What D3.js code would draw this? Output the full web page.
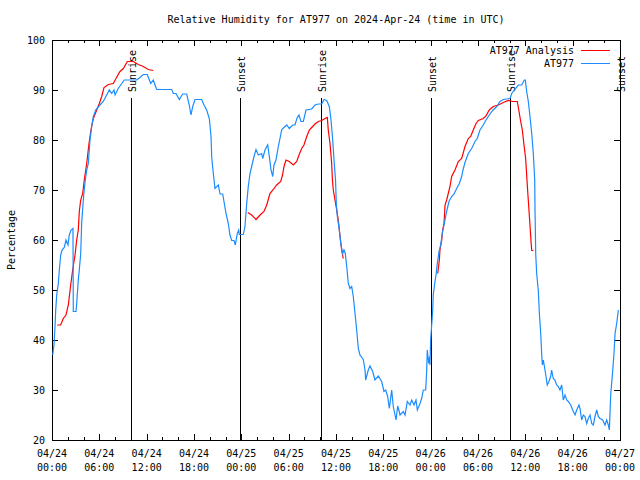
<!DOCTYPE html>
<html><head><meta charset="utf-8">
<script src="https://cdn.jsdelivr.net/npm/d3@7"></script>
<style>
body{margin:0;background:#fff}
svg text{font-family:"DejaVu Sans Mono",monospace;font-size:10px;fill:#000}
</style>
</head><body>
<svg id="c" width="640" height="480"></svg>
<script>
// ---- data (hours since 2024-04-24 00:00 UTC, relative humidity %) ----
const stationSeries = [[0.09,37],[0.25,39],[0.38,42.7],[0.47,46],[0.6,49],[0.8,51.3],[0.93,54],[1.1,57],[1.27,58],[1.56,58.5],[1.77,60],[2.03,59],[2.19,61],[2.41,62],[2.66,62.3],[2.7,45.7],[3.04,45.7],[3.13,47.3],[3.33,52],[3.46,54],[3.64,57.3],[3.76,63.3],[3.89,66.3],[4.02,69],[4.22,72],[4.4,74],[4.6,75.3],[4.82,80],[5.03,82.7],[5.24,84.7],[5.54,86],[6.08,87],[6.5,87.7],[6.93,89],[7.26,90],[7.57,89.3],[7.86,90],[7.99,89],[8.4,90.3],[8.71,91],[9.16,92],[9.67,92],[10.1,92],[10.74,92],[11.15,92.5],[11.57,93.1],[12.08,93.1],[12.51,91.3],[12.84,92],[13.06,91],[13.27,90.1],[15.17,90.1],[15.38,89.3],[15.72,89.3],[16.14,88.1],[16.57,89.2],[17.07,89.2],[17.4,87],[17.62,85],[17.84,86.7],[18.13,88.1],[18.98,88.1],[19.27,87],[19.61,86],[19.94,84.3],[20.16,80.7],[20.24,76.7],[20.34,75],[20.54,72],[20.66,70.3],[21.08,71],[21.3,69.2],[21.64,69.2],[21.84,67.3],[22.06,65.3],[22.35,63.3],[22.56,61],[22.78,59.9],[23.07,59.9],[23.24,59],[23.49,61.3],[23.67,62],[23.74,61.1],[24.25,61.1],[24.46,62.7],[24.68,67.3],[24.88,70.7],[25.1,73.3],[25.31,74.7],[25.61,76.7],[25.86,78.1],[26.15,77],[26.58,77.3],[26.71,76.3],[27.0,78],[27.34,79],[27.55,76.7],[27.76,74],[27.98,72.7],[28.14,75],[28.39,76],[28.69,78.7],[28.9,80.3],[29.12,82.1],[29.75,83],[30.08,82.3],[30.51,83],[30.8,83],[31.09,84.5],[31.31,85],[31.56,83.7],[31.86,83.7],[32.2,86],[32.92,86.2],[33.34,87],[33.76,87.2],[34.19,87.2],[34.48,88.1],[34.82,87.9],[35.15,86.7],[35.37,84],[35.58,80],[35.78,75.3],[35.94,72],[36.04,67.3],[36.17,64.7],[36.42,62],[36.63,59],[36.85,57.3],[37.01,58],[37.18,57.3],[37.36,54.7],[37.56,51.3],[37.77,50.3],[37.99,50.7],[38.19,48.7],[38.41,45.3],[38.62,42],[38.83,38.3],[39.04,37],[39.46,36.1],[39.68,34],[39.76,32],[40.09,34],[40.31,34.8],[40.65,33.7],[40.94,32],[41.36,32.8],[41.79,31.7],[42.08,29.7],[42.3,30],[42.55,28.7],[42.76,26.3],[43.06,30],[43.26,26.7],[43.61,24],[43.82,26.8],[44.02,25.7],[44.11,25],[44.53,25.7],[44.75,25],[45.04,27.7],[45.38,27],[45.6,28],[45.89,27],[46.14,28],[46.31,26],[46.65,27.3],[46.86,28.3],[47.07,30],[47.37,30],[47.5,34],[47.57,38],[47.75,35.3],[47.88,36.7],[47.91,35],[48.0,40],[48.13,43],[48.26,46],[48.33,49],[48.51,51.3],[48.68,53],[48.84,55.3],[49.06,57.7],[49.27,59],[49.47,61.3],[49.69,63],[49.9,64.7],[50.11,66.3],[50.32,67.7],[50.66,68.7],[50.96,69.2],[51.3,70.3],[51.63,71.3],[51.93,72.7],[52.1,74],[52.35,75.5],[52.77,77.3],[53.2,78.3],[53.62,79.7],[53.91,80.3],[54.25,82],[54.67,83],[55.01,84],[55.43,85],[55.86,85.9],[56.37,86.7],[56.79,87.7],[57.21,88.1],[58.06,88.3],[58.27,89.3],[58.6,90],[59.11,91],[59.54,91],[59.87,92],[60.0,92],[60.17,89.7],[60.38,87.7],[60.59,84.7],[60.81,81.3],[61.01,77.3],[61.19,72],[61.23,65.7],[61.32,57],[61.44,53.3],[61.65,49.7],[61.78,45.3],[61.95,41.3],[62.08,37],[62.16,35],[62.28,36],[62.49,34],[62.62,32.7],[62.78,31],[62.99,31.7],[63.21,32.7],[63.33,34],[63.54,32.3],[63.75,32],[63.97,31],[64.18,30.7],[64.39,30],[64.61,31],[64.81,28],[65.03,29],[65.24,28],[65.45,27.7],[65.75,27],[66.0,26],[66.3,25],[66.51,26],[66.8,27],[66.93,26.3],[67.14,24],[67.35,25],[67.56,24.7],[67.78,23.3],[67.98,24.3],[68.2,25],[68.41,23.3],[68.62,23],[68.83,24.7],[69.05,26],[69.25,24.7],[69.46,24.3],[69.81,24],[70.1,23],[70.31,24],[70.52,23],[70.65,22],[70.82,29],[71.03,33],[71.24,37.3],[71.37,41.3],[71.58,43.3],[71.79,46]];

const analysisSeries1 = [[0.67,43],[1.1,43],[1.43,44.3],[1.77,45],[2.07,47],[2.37,51],[2.62,54],[2.92,57],[3.13,60],[3.33,62],[3.46,65.7],[3.64,68],[3.89,69.3],[4.09,72],[4.4,75.3],[4.69,79.3],[4.94,82],[5.24,84.3],[5.67,86],[6.0,87.3],[6.3,88.7],[6.59,90.5],[7.14,91.1],[7.77,91.3],[8.11,92.3],[8.62,93.7],[9.04,94.3],[9.55,95.7],[10.31,95.7],[10.94,95.1],[11.57,94.7],[12.21,94.1],[12.84,93.9]];
const analysisSeries2 = [[24.81,65.5],[25.31,65],[25.86,64.1],[26.37,65],[26.87,65.7],[27.22,67],[27.63,69.3],[28.05,70.1],[28.48,71],[28.99,71.7],[29.22,73],[29.41,74.7],[29.66,76],[30.08,75.7],[30.59,75],[31.02,75.7],[31.31,77],[31.65,78.3],[31.94,79],[32.29,80.7],[32.62,82],[32.92,82.5],[33.34,83.2],[33.76,83.7],[34.19,83.9],[34.61,84.3],[34.9,84.5],[35.02,82],[35.24,79.3],[35.45,75.3],[35.55,72],[35.66,70],[35.87,68],[36.09,66],[36.29,64],[36.51,60.7],[36.72,58],[36.92,56.3]];
const analysisSeries3 = [[48.89,53.3],[49.1,56],[49.18,58],[49.4,60],[49.52,62],[49.69,63.3],[49.82,67],[50.03,68],[50.23,69.3],[50.45,70.7],[50.66,72.7],[51.08,74],[51.5,75.7],[51.93,76.3],[52.35,78.7],[52.77,80.3],[53.07,80.7],[53.4,82],[53.75,83.3],[54.04,83.9],[54.67,84.3],[55.01,84.8],[55.43,86],[55.94,86.7],[56.57,87],[57.21,87.5],[57.84,87.9],[58.4,87.7],[58.98,87.7],[59.2,85.7],[59.41,83.7],[59.62,82],[59.83,79],[60.04,76.3],[60.21,72],[60.3,69.7],[60.46,66],[60.59,63],[60.72,59.7],[60.81,57.9],[61.01,57.9]];

const xTickHours = [0,6,12,18,24,30,36,42,48,54,60,66,72];
const xTickDates = ["04/24","04/24","04/24","04/24","04/25","04/25","04/25","04/25","04/26","04/26","04/26","04/26","04/27"];
const xTickTimes = ["00:00","06:00","12:00","18:00","00:00","06:00","12:00","18:00","00:00","06:00","12:00","18:00","00:00"];
const yTicks = [20,30,40,50,60,70,80,90,100];
const sunHours = [10.0,23.85,34.12,48.0,58.1,72.0];
const sunLabels = ["Sunrise","Sunset","Sunrise","Sunset","Sunrise","Sunset"];
const seriesNames = ["AT977 Analysis","AT977"];
const seriesColors = ["#ff0000","#1a8cff"];
const titleText = "Relative Humidity for AT977 on 2024-Apr-24 (time in UTC)";
const yLabel = "Percentage";

// ---- layout ----
const margin = {left:52, right:20, top:40, bottom:40};
const W = 640 - margin.left - margin.right;   // 568
const H = 480 - margin.top - margin.bottom;   // 400

const svg = d3.select("#c");
const g = svg.append("g").attr("transform",`translate(${margin.left},${margin.top})`);

const x = d3.scaleLinear().domain([0,72]).range([0,W]);
const y = d3.scaleLinear().domain([20,100]).range([H,0]);

// title
svg.append("text").attr("x", margin.left + W/2).attr("y", 23)
  .attr("text-anchor","middle").text(titleText);

// y label
svg.append("text").attr("transform","translate(15,240) rotate(-90)")
  .attr("text-anchor","middle").text(yLabel);

function styleAxis(sel){
  sel.select(".domain").remove();
  sel.selectAll("line").attr("stroke","#000").attr("shape-rendering","crispEdges");
  sel.selectAll("text").attr("font-family",null).attr("font-size",null).attr("fill","#000");
  sel.attr("font-family",null).attr("font-size",null);
}

// left axis
g.append("g").call(d3.axisLeft(y).tickValues(yTicks).tickSize(-6).tickPadding(7).tickFormat(d3.format("d")))
  .call(styleAxis);
// right mirror
g.append("g").attr("transform",`translate(${W},0)`)
  .call(d3.axisRight(y).tickValues(yTicks).tickSize(-6).tickFormat(""))
  .call(styleAxis);
// bottom major
g.append("g").attr("transform",`translate(0,${H})`)
  .call(d3.axisBottom(x).tickValues(xTickHours).tickSize(-6).tickFormat(""))
  .call(styleAxis);
// top major
g.append("g")
  .call(d3.axisTop(x).tickValues(xTickHours).tickSize(-6).tickFormat(""))
  .call(styleAxis);
// minor ticks every 2 hours
const minor = d3.range(0,73,2).filter(h => h % 6 !== 0);
g.append("g").attr("transform",`translate(0,${H})`)
  .call(d3.axisBottom(x).tickValues(minor).tickSize(-3).tickFormat(""))
  .call(styleAxis);
g.append("g")
  .call(d3.axisTop(x).tickValues(minor).tickSize(-3).tickFormat(""))
  .call(styleAxis);

// x tick labels (two lines)
const xl = g.append("g").selectAll("text").data(xTickHours).join("text")
  .attr("text-anchor","middle")
  .attr("transform", d => `translate(${x(d)},${H})`);
xl.append("tspan").attr("x",0).attr("y",17).text((d,i)=>xTickDates[i]);
xl.append("tspan").attr("x",0).attr("y",31).text((d,i)=>xTickTimes[i]);

// frame
g.append("rect").attr("x",0).attr("y",0).attr("width",W).attr("height",H)
  .attr("fill","none").attr("stroke","#000").attr("shape-rendering","crispEdges");

// sunrise / sunset
const sun = g.append("g");
sun.selectAll("line").data(sunHours).join("line")
  .attr("x1", d=>Math.round(x(d))+0.5).attr("x2", d=>Math.round(x(d))+0.5)
  .attr("y1", 58).attr("y2", H)
  .attr("stroke","#000").attr("stroke-width",1).attr("shape-rendering","crispEdges");
sun.selectAll("text").data(sunHours).join("text")
  .attr("transform", d=>`translate(${Math.round(x(d))+5},52) rotate(-90)`)
  .attr("text-anchor","start")
  .text((d,i)=>sunLabels[i]);

// lines
const line = d3.line().x(d=>x(d[0])).y(d=>y(d[1]));
[analysisSeries1, analysisSeries2, analysisSeries3].forEach(s=>{
  g.append("path").datum(s).attr("d",line).attr("fill","none")
    .attr("stroke",seriesColors[0]).attr("stroke-width",1.2);
});
g.append("path").datum(stationSeries).attr("d",line).attr("fill","none")
  .attr("stroke",seriesColors[1]).attr("stroke-width",1.2);

// legend
const leg = svg.append("g");
seriesNames.forEach((n,i)=>{
  const yy = 50 + i*13;
  leg.append("text").attr("x",574).attr("y",yy+3.5).attr("text-anchor","end").text(n);
  leg.append("line").attr("x1",581).attr("x2",610).attr("y1",yy+0.5).attr("y2",yy+0.5)
    .attr("stroke",seriesColors[i]).attr("stroke-width",1).attr("shape-rendering","crispEdges");
});
</script>
</body></html>
